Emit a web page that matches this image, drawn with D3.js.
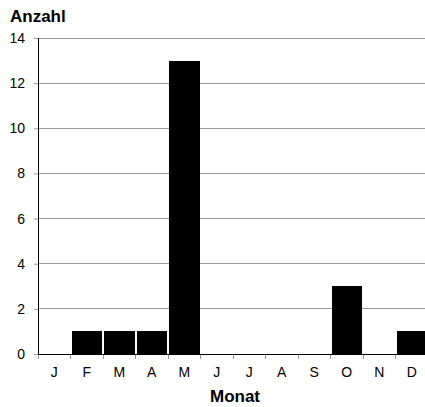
<!DOCTYPE html>
<html>
<head>
<meta charset="utf-8">
<script src="https://cdn.jsdelivr.net/npm/d3@7"></script>
<style>
  body { margin: 0; background: #fff; }
  text { font-family: "Liberation Sans", Arial, sans-serif; }
</style>
</head>
<body>
<div id="grafico"></div>
<script>
// Dados
const monate = ["J", "F", "M", "A", "M", "J", "J", "A", "S", "O", "N", "D"];
const anzahl = [0, 1, 1, 1, 13, 0, 0, 0, 0, 3, 0, 1];
const yTicks = [0, 2, 4, 6, 8, 10, 12, 14];

const W = 425, H = 407;
const margin = { top: 38, right: -3, bottom: 53, left: 38 };
const width = W - margin.left - margin.right;
const height = H - margin.top - margin.bottom;

const svg = d3.select("#grafico").append("svg")
    .attr("width", W)
    .attr("height", H);

const g = svg.append("g")
    .attr("transform", `translate(${margin.left},${margin.top})`);

// Escalas
const x = d3.scaleBand().domain(d3.range(monate.length)).range([0, width]).padding(0);
const y = d3.scaleLinear().domain([0, 14]).range([height, 0]);

// Linhas de grade
g.selectAll(".grid").data(yTicks.filter(d => d > 0)).join("line")
    .attr("x1", 0).attr("x2", width)
    .attr("y1", d => y(d)).attr("y2", d => y(d))
    .attr("stroke", "#999").attr("stroke-width", 1)
    .attr("shape-rendering", "crispEdges");

// Barras
g.selectAll(".bar").data(anzahl).join("rect")
    .attr("x", (d, i) => x(i) + 1)
    .attr("width", x.bandwidth() - 2)
    .attr("y", d => y(d))
    .attr("height", d => height - y(d))
    .attr("fill", "#000")
    .attr("shape-rendering", "crispEdges");

// Eixo Y
const yAxis = g.append("g")
    .call(d3.axisLeft(y).tickValues(yTicks).tickSize(4).tickPadding(9));
yAxis.select(".domain").attr("stroke", "#000").attr("shape-rendering", "crispEdges");
yAxis.selectAll(".tick line").attr("stroke", "#999");
yAxis.selectAll("text").attr("font-size", 14).attr("fill", "#000")
    .style("font-family", "Liberation Sans, Arial, sans-serif");

// Eixo X
const xb = d3.scaleLinear().domain([0, monate.length]).range([0, width]);
const xAxis = g.append("g")
    .attr("transform", `translate(0,${height})`);
xAxis.selectAll("line.tk").data(d3.range(monate.length + 1)).join("line")
    .attr("x1", d => xb(d)).attr("x2", d => xb(d))
    .attr("y1", 0).attr("y2", 5)
    .attr("stroke", "#999")
    .attr("shape-rendering", "crispEdges");
xAxis.append("line")
    .attr("x1", 0).attr("x2", width)
    .attr("y1", 0).attr("y2", 0)
    .attr("stroke", "#000")
    .attr("shape-rendering", "crispEdges");
xAxis.selectAll("text").data(monate).join("text")
    .attr("x", (d, i) => x(i) + x.bandwidth() / 2)
    .attr("y", 23)
    .attr("text-anchor", "middle")
    .attr("font-size", 14)
    .text(d => d);

// Títulos
svg.append("text")
    .attr("x", 10).attr("y", 22)
    .attr("font-size", 17).attr("font-weight", "bold")
    .text("Anzahl");

svg.append("text")
    .attr("x", 235).attr("y", 402)
    .attr("text-anchor", "middle")
    .attr("font-size", 17).attr("font-weight", "bold")
    .text("Monat");
</script>
</body>
</html>
